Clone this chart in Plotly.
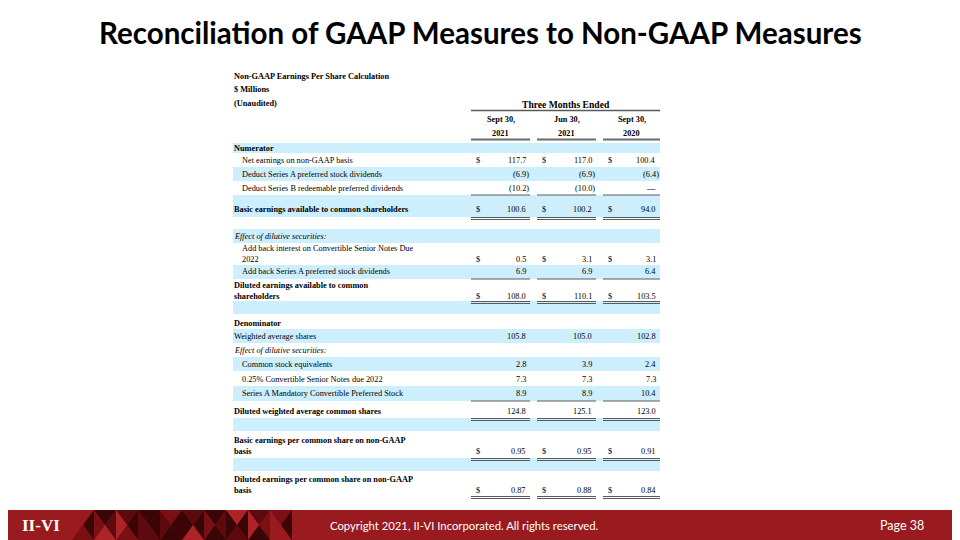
import plotly.graph_objects as go

# ---- text / data ----
title = "Reconciliation of GAAP Measures to Non-GAAP Measures"
header_lines = ["Non-GAAP Earnings Per Share Calculation", "$ Millions", "(Unaudited)"]
period_group = "Three Months Ended"
period_top = ["Sept 30,", "Jun 30,", "Sept 30,"]
period_year = ["2021", "2021", "2020"]

labels = [
    "Numerator",
    "Net earnings on non-GAAP basis",
    "Deduct Series A preferred stock dividends",
    "Deduct Series B redeemable preferred dividends",
    "Basic earnings available to common shareholders",
    "",
    "Effect of dilutive securities:",
    "Add back interest on Convertible Senior Notes Due<br>2022",
    "Add back Series A preferred stock dividends",
    "Diluted earnings available to common<br>shareholders",
    "",
    "Denominator",
    "Weighted average shares",
    "Effect of dilutive securities:",
    "Common stock equivalents",
    "0.25% Convertible Senior Notes due 2022",
    "Series A Mandatory Convertible Preferred Stock",
    "Diluted weighted average common shares",
    "",
    "Basic earnings per common share on non-GAAP<br>basis",
    "",
    "Diluted earnings per common share on non-GAAP<br>basis",
]
# 0.0 is shown as a dash, None is blank
sept30_2021 = [None, 117.7, -6.9, -10.2, 100.6, None, None, 0.5, 6.9, 108.0, None,
               None, 105.8, None, 2.8, 7.3, 8.9, 124.8, None, 0.95, None, 0.87]
jun30_2021 = [None, 117.0, -6.9, -10.0, 100.2, None, None, 3.1, 6.9, 110.1, None,
              None, 105.0, None, 3.9, 7.3, 8.9, 125.1, None, 0.95, None, 0.88]
sept30_2020 = [None, 100.4, -6.4, 0.0, 94.0, None, None, 3.1, 6.4, 103.5, None,
               None, 102.8, None, 2.4, 7.3, 10.4, 123.0, None, 0.91, None, 0.84]
columns = [sept30_2021, jun30_2021, sept30_2020]

footer_text = "Copyright 2021, II-VI Incorporated. All rights reserved."
page_text = "Page 38"
logo_text = "II-VI"

# ---- row formatting ----
bold_rows = {0, 4, 9, 11, 17, 19, 21}
italic_rows = {6, 13}
indent_rows = {1, 2, 3, 7, 8, 14, 15, 16}
dollar_rows = {1, 4, 7, 9, 19, 21}
two_dec_rows = {19, 21}
single_rule = {3, 8, 16}
double_rule = {4, 9, 17, 19, 21}

# ---- layout geometry (window pixels) ----
row_tops = [143, 153, 167, 181, 195, 217, 229, 243, 265, 279, 301, 314, 329, 343,
            357, 371, 386, 401, 418, 431, 458, 471, 496]
row_text_y = [148, 160, 174, 188, 209, None, 236, 259, 271, 296, None, 323, 336, 350,
              364, 379, 393, 411, None, 451, None, 490]
tbl_left, tbl_right = 233, 660
col_spans = [(471, 530), (537, 596), (603, 660)]
band_color = "#cdeefc"
rule_color = "#5a5a5a"
serif = "Liberation Serif"
fs = 8.3
line_gap = 10.5
# the page body has an 8px margin, so shift the axes to keep window pixel coords
off = 8

fig = go.Figure()
shapes = []
ann = []


def text(x, y, s, size=fs, xanchor="left", family=serif, color="black", yanchor="middle", align="left"):
    ann.append(dict(x=x, y=y, text=s, xref="x", yref="y", showarrow=False,
                    xanchor=xanchor, yanchor=yanchor, align=align,
                    font=dict(family=family, size=size, color=color), borderpad=0))


def hline(x0, x1, y, w=1, color=rule_color):
    shapes.append(dict(type="line", xref="x", yref="y", x0=x0, x1=x1, y0=y, y1=y,
                       line=dict(color=color, width=w)))


def fmt(v, dec):
    if v is None:
        return ""
    if v == 0:
        return "\u2014"
    s = f"{abs(v):.{dec}f}"
    return f"({s})" if v < 0 else s


# title
text(480, 32, "<b>" + title + "</b>", size=29.5, xanchor="center", family="Lato")

# header block
for i, h in enumerate(header_lines):
    text(tbl_left, 76 + i * 13.5, "<b>" + h + "</b>")
grp_x = (col_spans[0][0] + col_spans[-1][1]) / 2
text(grp_x, 104, "<b>" + period_group + "</b>", size=9.6, xanchor="center")
hline(col_spans[0][0], col_spans[-1][1], 110.5, w=1.5)
for (c0, c1), top, yr in zip(col_spans, period_top, period_year):
    cx = (c0 + c1) / 2
    text(cx, 119.5, "<b>" + top + "</b>", xanchor="center")
    text(cx, 133.5, "<b>" + yr + "</b>", xanchor="center")
    hline(c0, c1, 139.5, w=2, color="#6a6a6a")

# bands
for i in range(len(labels)):
    if i % 2 == 0:
        shapes.append(dict(type="rect", xref="x", yref="y", x0=tbl_left, x1=tbl_right,
                           y0=row_tops[i], y1=row_tops[i + 1], line=dict(width=0),
                           fillcolor=band_color, layer="below"))

# rows
for i, lab in enumerate(labels):
    y = row_text_y[i]
    if y is None:
        continue
    s = lab
    if i in bold_rows:
        s = "<b>" + s + "</b>"
    if i in italic_rows:
        s = "<i>" + s + "</i>"
    nlines = lab.count("<br>") + 1
    x = tbl_left + (8 if i in indent_rows else 0)
    text(x, y - (nlines - 1) * line_gap / 2, s)
    dec = 2 if i in two_dec_rows else 1
    for col, (c0, c1) in zip(columns, col_spans):
        v = col[i]
        if v is None:
            continue
        shift = 3 if v < 0 else 0
        text(c1 - 3 + shift, y, fmt(v, dec), xanchor="right")
        if i in dollar_rows:
            text(c0 + 4, y, "$")
    bottom = row_tops[i + 1]
    if i in single_rule:
        for c0, c1 in col_spans:
            hline(c0, c1, bottom, w=1)
    if i in double_rule:
        for c0, c1 in col_spans:
            hline(c0, c1, bottom + 0.5, w=1)
            hline(c0, c1, bottom + 2.5, w=1)

# footer band with a triangle mosaic
ft, fb = 510, 548
shapes.append(dict(type="rect", xref="x", yref="y", x0=0, x1=970, y0=ft, y1=fb,
                   line=dict(width=0), fillcolor="#991b1f", layer="below"))
pal = {"D": "#3a0506", "M": "#5c0a0d", "L": "#7a1013", "R": "#ad2428", "B": "#991b1f"}
cells = ["BDLB", "DMRL", "MDLR", "DDMM", "LDDM", "MDRD", "DMDL", "RDMD", "MLDR", "LDBB"]
cw, cx0 = 22, 72
for k, cols in enumerate(cells):
    x0, x1 = cx0 + k * cw, cx0 + (k + 1) * cw
    xm, ym = (x0 + x1) / 2, (ft + 540) / 2
    tris = [
        f"M {x0} {ft} L {x1} {ft} L {xm} {ym} Z",
        f"M {x1} {ft} L {x1} 540 L {xm} {ym} Z",
        f"M {x0} 540 L {x1} 540 L {xm} {ym} Z",
        f"M {x0} {ft} L {x0} 540 L {xm} {ym} Z",
    ]
    for p, c in zip(tris, cols):
        if c == "B":
            continue
        shapes.append(dict(type="path", xref="x", yref="y", path=p, fillcolor=pal[c],
                           line=dict(width=0), layer="below"))
text(41, 525, "<b>" + logo_text + "</b>", size=17, xanchor="center", family=serif, color="white")
text(464, 525, footer_text, size=11.3, xanchor="center", family="Lato", color="white")
text(925, 525, page_text, size=12.5, xanchor="right", family="Lato", color="white")

fig.update_layout(
    width=960, height=540, margin=dict(l=0, r=0, t=0, b=0),
    paper_bgcolor="white", plot_bgcolor="white",
    xaxis=dict(range=[off, 960 + off], visible=False, fixedrange=True),
    yaxis=dict(range=[540 + off, off], visible=False, fixedrange=True),
    shapes=shapes, annotations=ann, showlegend=False,
)
fig.write_html("out.html")
